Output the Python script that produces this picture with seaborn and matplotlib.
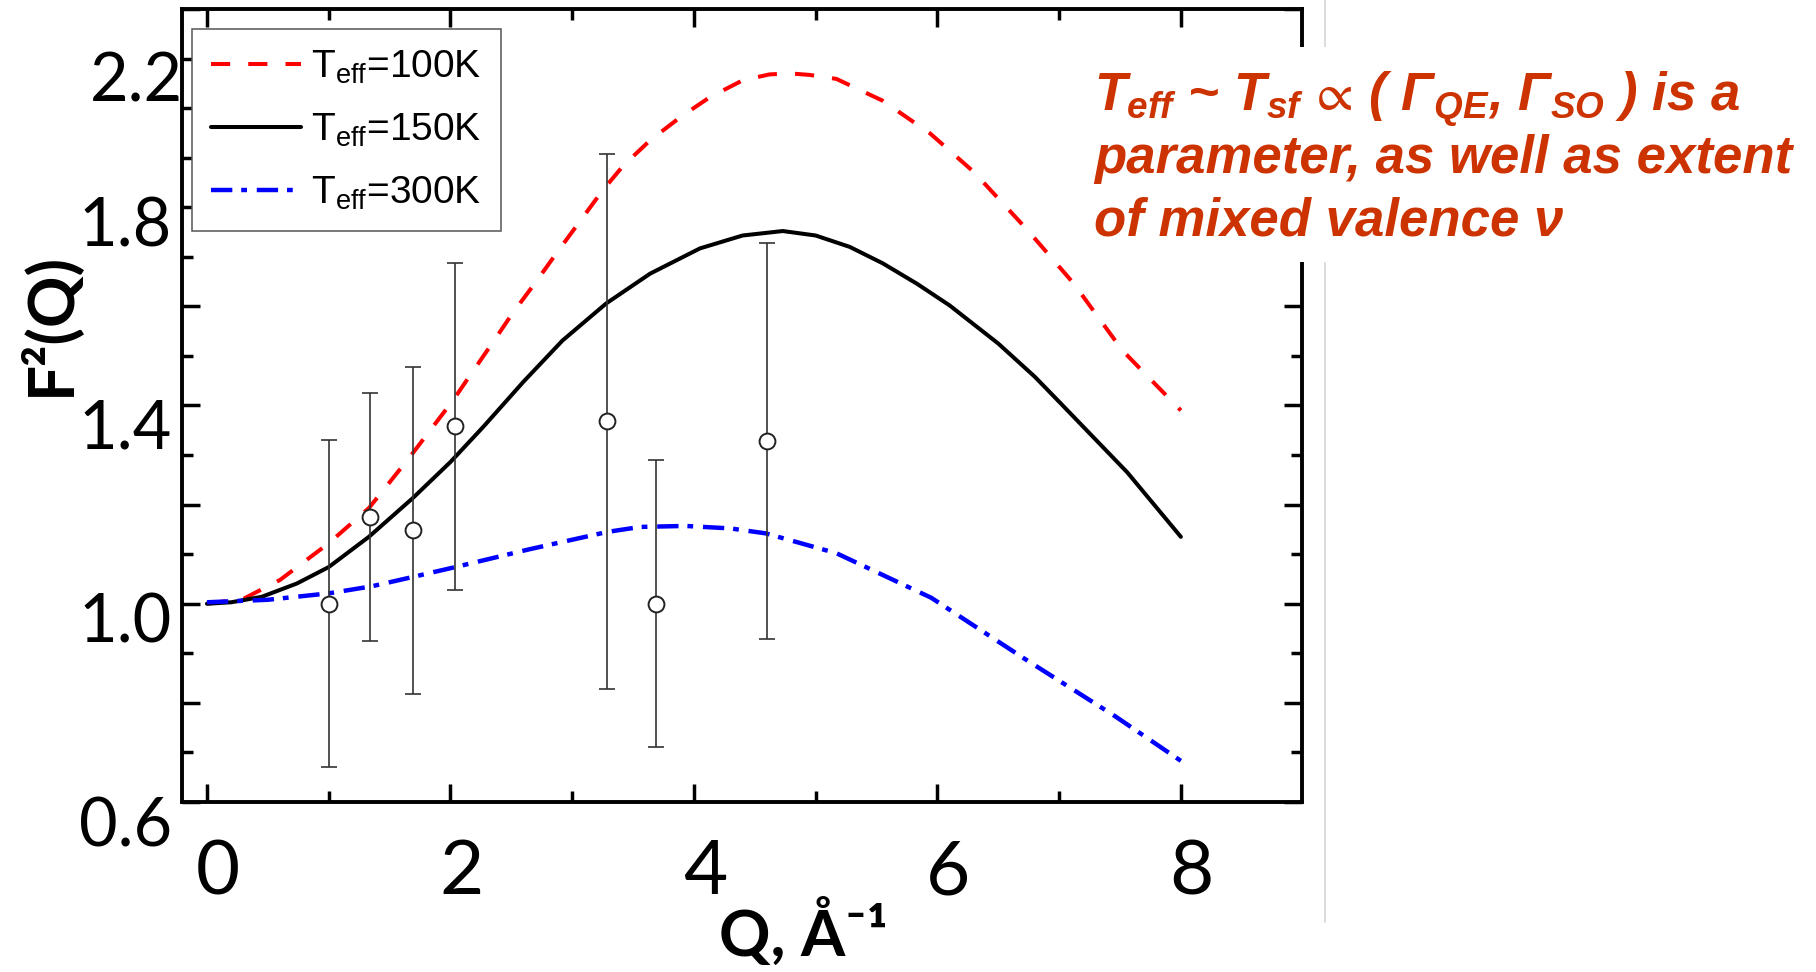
import numpy as np
import pandas as pd
import matplotlib
matplotlib.use("Agg")
import matplotlib.pyplot as plt
import matplotlib.transforms as mtrans
from matplotlib.lines import Line2D
from matplotlib.patches import Rectangle
import seaborn as sns

# ---------------- data ----------------
q_100 = [0.0, 0.3, 0.6, 1.0, 1.33, 1.66, 2.02, 2.19, 2.35, 2.51, 2.71, 2.87, 3.05, 3.25,
         3.42, 3.64, 3.89, 4.13, 4.40, 4.62, 4.79, 4.95, 5.17, 5.55, 5.94, 6.30, 6.74, 7.12, 7.52, 8.0]
f_100 = [1.0, 1.01, 1.048, 1.122, 1.193, 1.294, 1.41, 1.471, 1.528, 1.586, 1.652, 1.707, 1.767, 1.834,
         1.884, 1.935, 1.982, 2.022, 2.056, 2.068, 2.070, 2.067, 2.059, 2.015, 1.949, 1.871, 1.754,
         1.646, 1.511, 1.39]

q_150 = [0.0, 0.2, 0.45, 0.74, 1.0, 1.33, 1.69, 2.0, 2.27, 2.60, 2.92, 3.28, 3.64, 4.05, 4.40,
         4.73, 5.0, 5.28, 5.55, 5.83, 6.10, 6.50, 6.80, 7.01, 7.56, 8.0]
f_150 = [1.0, 1.003, 1.014, 1.041, 1.074, 1.135, 1.213, 1.286, 1.357, 1.448, 1.531, 1.606, 1.666, 1.717,
         1.743, 1.752, 1.743, 1.720, 1.687, 1.646, 1.602, 1.525, 1.458, 1.405, 1.265, 1.135]

q_300 = [0.0, 0.5, 1.0, 1.35, 1.69, 2.04, 2.65, 3.29, 3.56, 3.93, 4.30, 4.59, 5.17, 5.95, 6.71, 7.46, 8.0]
f_300 = [1.003, 1.008, 1.021, 1.035, 1.054, 1.074, 1.11, 1.145, 1.155, 1.157, 1.152, 1.142, 1.102, 1.012,
         0.89, 0.773, 0.683]

q_exp = [1.0, 1.34, 1.695, 2.04, 3.29, 3.69, 4.60]
f_exp = [1.0, 1.175, 1.148, 1.358, 1.368, 1.0, 1.328]
err_exp = [0.33, 0.25, 0.33, 0.33, 0.54, 0.29, 0.40]

legend_labels = [r"T$_{\mathrm{eff}}$=100K", r"T$_{\mathrm{eff}}$=150K", r"T$_{\mathrm{eff}}$=300K"]
x_ticks = [0, 2, 4, 6, 8]
x_ticklabels = ["0", "2", "4", "6", "8"]
x_minor = [1, 3, 5, 7]
y_ticks = [0.6, 0.8, 1.0, 1.2, 1.4, 1.6, 1.8, 2.0, 2.2]
y_ticklabels = ["0.6", "", "1.0", "", "1.4", "", "1.8", "", "2.2"]
y_minor = [0.7, 0.9, 1.1, 1.3, 1.5, 1.7, 1.9, 2.1]

note_lines = [
    r"T$_{\mathbfit{eff}}$ ~ T$_{\mathbfit{sf}}\,\propto\,$( Γ$_{\mathbfit{QE}}$, Γ$_{\mathbfit{SO}}$ ) is a",
    "parameter, as well as extent",
    "of mixed valence ν",
]

# ---------------- style ----------------
sns.set_style("ticks")
plt.rcParams["font.family"] = ["Lato", "DejaVu Sans"]
plt.rcParams.update({
    "mathtext.fontset": "custom",
    "mathtext.rm": "Liberation Sans",
    "mathtext.it": "Liberation Sans:italic",
    "mathtext.bf": "Liberation Sans:bold",
    "mathtext.bfit": "Liberation Sans:italic:bold",
    "mathtext.fallback": "stixsans",
    "axes.linewidth": 2.8,
    "axes.edgecolor": "black",
    "text.color": "black",
    "axes.labelcolor": "black",
    "xtick.color": "black",
    "ytick.color": "black",
    "xtick.labelcolor": "black",
    "ytick.labelcolor": "black",
})

W, H = 1816, 972
fig = plt.figure(figsize=(W / 100, H / 100), dpi=100)
fig.patch.set_facecolor("white")
ax_l, ax_r, ax_t, ax_b = 182, 1302, 9, 802
ax = fig.add_axes([ax_l / W, 1 - ax_b / H, (ax_r - ax_l) / W, (ax_b - ax_t) / H])
ax.set_facecolor("white")

# curves
sns.lineplot(x=q_100, y=f_100, ax=ax, color="#FF0000", lw=2.9, linestyle=(0, (4.75, 4.5)), sort=False)
h1 = ax.lines[-1]
sns.lineplot(x=q_150, y=f_150, ax=ax, color="black", lw=2.9, linestyle="-", sort=False)
h2 = ax.lines[-1]
sns.lineplot(x=q_300, y=f_300, ax=ax, color="#0000FF", lw=3.2, linestyle=(0, (4.8, 2.0, 1.3, 2.2)), sort=False)
h3 = ax.lines[-1]

# experimental points
ax.errorbar(q_exp, f_exp, yerr=err_exp, fmt="none", ecolor="#333333", elinewidth=1.2,
            capsize=6, capthick=1.2, zorder=3)
sns.scatterplot(x=q_exp, y=f_exp, ax=ax, s=130, facecolor="white", edgecolor="#222222",
                linewidth=1.4, zorder=4)

ax.set_xlim(-0.205, 8.995)
ax.set_ylim(0.6, 2.2)
ax.set_xticks(x_ticks, labels=x_ticklabels)
ax.set_xticks(x_minor, minor=True)
ax.set_yticks(y_ticks, labels=y_ticklabels)
ax.set_yticks(y_minor, minor=True)
ax.tick_params(which="both", direction="in", top=True, right=True, width=2.5, color="black",
               labelcolor="black")
ax.tick_params(which="major", length=13)
ax.tick_params(which="minor", length=7.8)
ax.tick_params(axis="y", which="major", pad=7.2, labelsize=48)
ax.tick_params(axis="x", which="major", pad=26, labelsize=55)
for s in ax.spines.values():
    s.set_linewidth(2.8)

ax.set_xlabel("Q, Å⁻¹", fontsize=46, fontweight="bold", family=["Lato", "DejaVu Sans"], color="black")
ax.xaxis.set_label_coords((803 - ax_l) / (ax_r - ax_l), (ax_b - 897) / (ax_b - ax_t))
ax.set_ylabel("F²(Q)", fontsize=46, fontweight="bold", family=["Lato", "DejaVu Sans"], color="black")
ax.yaxis.set_label_coords((80 - ax_l) / (ax_r - ax_l), (ax_b - 323.5) / (ax_b - ax_t))

leg = ax.legend([h1, h2, h3], legend_labels, loc="upper left",
                bbox_to_anchor=((192 - ax_l) / (ax_r - ax_l), (ax_b - 29) / (ax_b - ax_t)),
                borderaxespad=0, frameon=True, fancybox=False, framealpha=1, edgecolor="#555555",
                prop={"family": "Liberation Sans", "size": 28}, handlelength=2.3,
                handletextpad=0.26, borderpad=0.5, labelspacing=0.66)
leg.get_frame().set_linewidth(1.1)

# annotation (slide text) with white backing box
fig.add_artist(Line2D([1325 / W, 1325 / W], [1.0, 1 - 922 / H], transform=fig.transFigure,
                      color="#D9D9D9", lw=1.3, zorder=1))
fig.add_artist(Rectangle((1085 / W, 1 - 262 / H), (W - 1085) / W, (262 - 47) / H,
                         transform=fig.transFigure, facecolor="white", edgecolor="none", zorder=5))
for txt, base in zip(note_lines, [111, 173, 235]):
    fig.text(1094 / W, 1 - base / H, txt, fontsize=38, color="#CC3300", fontweight="bold",
             fontstyle="italic", family="Liberation Sans", ha="left", va="baseline", zorder=10)

# tick label offsets (labels in the reference sit slightly off their ticks)
y_off = {"0.6": (0, 19), "1.0": (0, 14), "1.4": (0, 17.5), "1.8": (0, 14), "2.2": (11, 67.5)}
for tick, lab in zip(ax.yaxis.get_major_ticks(), y_ticklabels):
    if lab in y_off:
        dx, dy = y_off[lab]
        tick.label1.set_transform(tick.label1.get_transform() +
                                  mtrans.ScaledTranslation(dx / 100, -dy / 100, fig.dpi_scale_trans))
for tick in ax.xaxis.get_major_ticks():
    tick.label1.set_transform(tick.label1.get_transform() +
                              mtrans.ScaledTranslation(11 / 100, 0, fig.dpi_scale_trans))

fig.savefig("out.png", dpi=100, facecolor="white")
